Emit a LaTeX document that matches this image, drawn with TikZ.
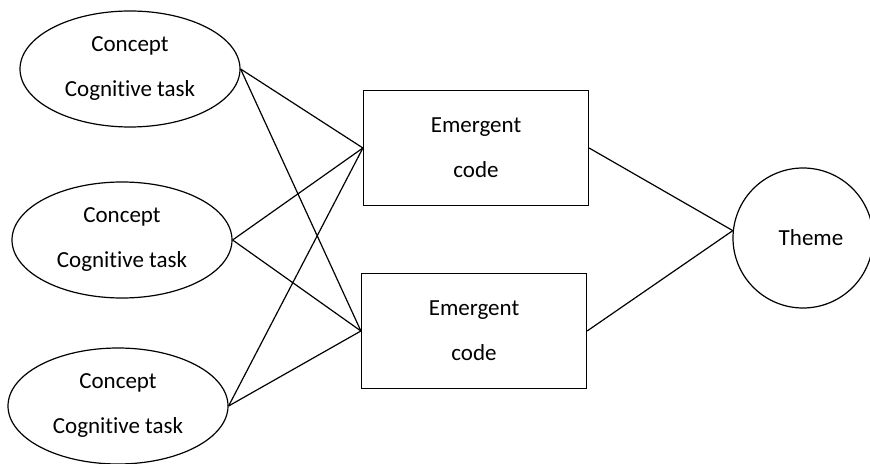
\documentclass[tikz,border=0pt]{standalone}
\usepackage{fontspec}
\setmainfont[Ligatures=NoCommon]{Carlito}
\usetikzlibrary{shapes.geometric}

\tikzset{
  every node/.style={font=\fontsize{11.5}{22.5}\selectfont, align=center, line width=0.6pt},
  concept/.style={draw, ellipse, minimum width=110pt, minimum height=58pt, inner sep=0pt},
  codebox/.style={draw, rectangle, minimum width=112.5pt, minimum height=57.5pt},
  themecirc/.style={draw, circle, minimum size=70pt, inner sep=0pt}
}

\begin{document}
\begin{tikzpicture}[x=0.5pt,y=-0.5pt,line width=0.6pt]
	\useasboundingbox (0,0) rectangle (870,464);
	
	% concepts on the left
	\node[concept] (c1) at (130,69) {Concept\\Cognitive task};
	\node[concept] (c2) at (122,240) {Concept\\Cognitive task};
	\node[concept] (c3) at (118,406) {Concept\\Cognitive task};
	
	% codes in the middle
	\node[codebox] (e1) at (476,148) {Emergent\\code};
	\node[codebox] (e2) at (474,331) {Emergent\\code};
	
	% theme on the right
	\node[themecirc] (th) at (803,238) {\hspace{8pt}Theme};
	
	\foreach \c in {c1,c2,c3}
	\foreach \e in {e1,e2}
	\draw (\c.east) -- (\e.west);
	
	\foreach \e in {e1,e2}
	\draw (\e.east) -- (th.174);
\end{tikzpicture}
\end{document}
